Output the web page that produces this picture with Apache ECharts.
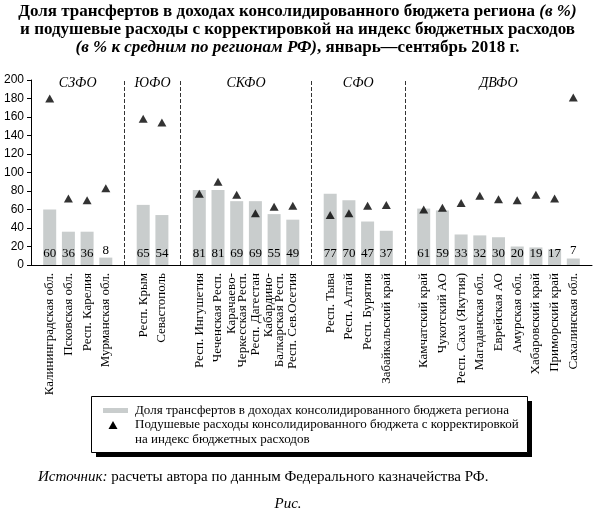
<!DOCTYPE html>
<html>
<head>
    <meta charset="utf-8">
    <title>ECharts</title>
    <script src="https://cdn.jsdelivr.net/npm/echarts@6/dist/echarts.min.js"></script>
</head>
<body style="margin:0; background:#fff;">
<div id="main" style="height: 516px; width: 595px;"></div>
<script type="text/javascript">
    // data: federal districts, regions, transfer share (%), per capita spending index (%)
    var districts = ['СЗФО', 'ЮФО', 'СКФО', 'СФО', 'ДВФО'];
    var regions = [
        ['Калининградская обл.', 'Псковская обл.', 'Респ. Карелия', 'Мурманская обл.'],
        ['Респ. Крым', 'Севастополь'],
        ['Респ. Ингушетия', 'Чеченская Респ.', 'Карачаево-\nЧеркесская Респ.', 'Респ. Дагестан', 'Кабардино-\nБалкарская Респ.', 'Респ. Сев.Осетия'],
        ['Респ. Тыва', 'Респ. Алтай', 'Респ. Бурятия', 'Забайкальский край'],
        ['Камчатский край', 'Чукотский АО', 'Респ. Саха (Якутия)', 'Магаданская обл.', 'Еврейская АО', 'Амурская обл.', 'Хабаровский край', 'Приморский край', 'Сахалинская обл.']
    ];
    var transferShare = [
        [60, 36, 36, 8],
        [65, 54],
        [81, 81, 69, 69, 55, 49],
        [77, 70, 47, 37],
        [61, 59, 33, 32, 30, 20, 19, 17, 7]
    ];
    var spendingIndex = [
        [180, 72, 70, 83],
        [158, 154],
        [77, 90, 76, 56, 63, 64],
        [54, 56, 64, 65],
        [60, 62, 67, 75, 71, 70, 76, 72, 181]
    ];
    var yTicks = [0, 200, 20];

    var serif = 'Liberation Serif';
    var barColor = '#c9cdcd';

    // build category axis with an empty slot between districts
    var categories = [''];
    var bars = [null];
    var points = [null];
    var separators = [];
    var districtAreas = [];
    for (var g = 0; g < districts.length; g++) {
        if (g > 0) {
            separators.push({ xAxis: categories.length });
            categories.push('');
            bars.push(null);
            points.push(null);
        }
        var start = categories.length;
        for (var i = 0; i < regions[g].length; i++) {
            categories.push(regions[g][i]);
            var v = transferShare[g][i];
            bars.push({
                value: v,
                label: v < 15 ? { position: 'top', distance: 1 } : { position: 'insideBottom', distance: 5 }
            });
            points.push(spendingIndex[g][i]);
        }
        districtAreas.push([
            { name: districts[g], xAxis: start, yAxis: 192 },
            { xAxis: categories.length - 1, yAxis: 200 }
        ]);
    }
    categories.push('');
    bars.push(null);
    points.push(null);

    var myChart = echarts.init(document.getElementById('main'));

    var option = {
        animation: false,
        title: {
            left: 'center',
            top: 3,
            padding: 0,
            text: '{b|Доля трансфертов в доходах консолидированного бюджета региона }{i|(в %)}\n' +
                '{b|и подушевые расходы с корректировкой на индекс бюджетных расходов}\n' +
                '{i|(в % к средним по регионам РФ)}{b|, январь—сентябрь 2018 г.}',
            textStyle: {
                fontFamily: serif,
                fontSize: 17,
                lineHeight: 18,
                color: '#000',
                rich: {
                    b: { fontFamily: serif, fontSize: 17, fontWeight: 'bold', lineHeight: 18, color: '#000' },
                    i: { fontFamily: serif, fontSize: 17, fontStyle: 'italic', lineHeight: 18, color: '#000' }
                }
            }
        },
        grid: {
            left: 31,
            right: 3,
            top: 80,
            bottom: 251
        },
        xAxis: {
            type: 'category',
            data: categories,
            boundaryGap: false,
            axisLine: { lineStyle: { color: '#000', width: 1 } },
            axisTick: { show: false },
            axisLabel: {
                interval: 0,
                rotate: 90,
                margin: 8,
                fontFamily: serif,
                fontSize: 13,
                lineHeight: 11,
                color: '#000'
            }
        },
        yAxis: {
            type: 'value',
            min: yTicks[0],
            max: yTicks[1],
            interval: yTicks[2],
            axisLine: { show: true, lineStyle: { color: '#000', width: 1 } },
            axisTick: { show: true, length: 4, lineStyle: { color: '#000' } },
            splitLine: { show: false },
            axisLabel: {
                margin: 7,
                fontFamily: 'Liberation Sans',
                fontSize: 12,
                color: '#000'
            }
        },
        series: [
            {
                name: 'Доля трансфертов в доходах консолидированного бюджета региона',
                type: 'bar',
                data: bars,
                barWidth: 13,
                itemStyle: { color: barColor },
                label: {
                    show: true,
                    fontFamily: serif,
                    fontSize: 13,
                    color: '#000'
                },
                markLine: {
                    silent: true,
                    symbol: ['none', 'none'],
                    label: { show: false },
                    lineStyle: { color: '#333', width: 1, type: [4, 2] },
                    data: separators
                }
            },
            {
                name: 'Подушевые расходы консолидированного бюджета с корректировкой на индекс бюджетных расходов',
                type: 'scatter',
                data: points,
                symbol: 'triangle',
                symbolSize: [9, 8],
                itemStyle: { color: '#000' },
                markArea: {
                    silent: true,
                    itemStyle: { color: 'rgba(0,0,0,0)' },
                    label: {
                        show: true,
                        position: 'inside',
                        fontFamily: serif,
                        fontSize: 14,
                        fontStyle: 'italic',
                        color: '#000'
                    },
                    data: districtAreas
                }
            }
        ],
        graphic: [
            // legend box with hard shadow
            { type: 'rect', shape: { x: 96, y: 401, width: 436, height: 56 }, style: { fill: '#000' }, silent: true },
            { type: 'rect', shape: { x: 91.5, y: 396.5, width: 436, height: 56 }, style: { fill: '#fff', stroke: '#000', lineWidth: 1 }, silent: true },
            { type: 'rect', shape: { x: 103, y: 408, width: 25, height: 5 }, style: { fill: barColor }, silent: true },
            { type: 'polygon', shape: { points: [[113, 421], [117.5, 429], [108.5, 429]] }, style: { fill: '#000' }, silent: true },
            {
                type: 'text', x: 135, y: 410.5, silent: true,
                style: { text: 'Доля трансфертов в доходах консолидированного бюджета региона', fontFamily: serif, fontSize: 13, fill: '#000', verticalAlign: 'middle' }
            },
            {
                type: 'text', x: 135, y: 425, silent: true,
                style: { text: 'Подушевые расходы консолидированного бюджета с корректировкой', fontFamily: serif, fontSize: 13, fill: '#000', verticalAlign: 'middle' }
            },
            {
                type: 'text', x: 135, y: 440, silent: true,
                style: { text: 'на индекс бюджетных расходов', fontFamily: serif, fontSize: 13, fill: '#000', verticalAlign: 'middle' }
            },
            {
                type: 'text', x: 38, y: 477, silent: true,
                style: {
                    text: '{i|Источник:} расчеты автора по данным Федерального казначейства РФ.',
                    fontFamily: serif, fontSize: 15, fill: '#000', verticalAlign: 'middle',
                    rich: { i: { fontFamily: serif, fontSize: 15, fontStyle: 'italic', fill: '#000' } }
                }
            },
            {
                type: 'text', x: 288, y: 504, silent: true,
                style: { text: 'Рис.', fontFamily: serif, fontSize: 15, fontStyle: 'italic', fill: '#000', align: 'center', verticalAlign: 'middle' }
            }
        ]
    };

    myChart.setOption(option);
</script>
</body>
</html>
